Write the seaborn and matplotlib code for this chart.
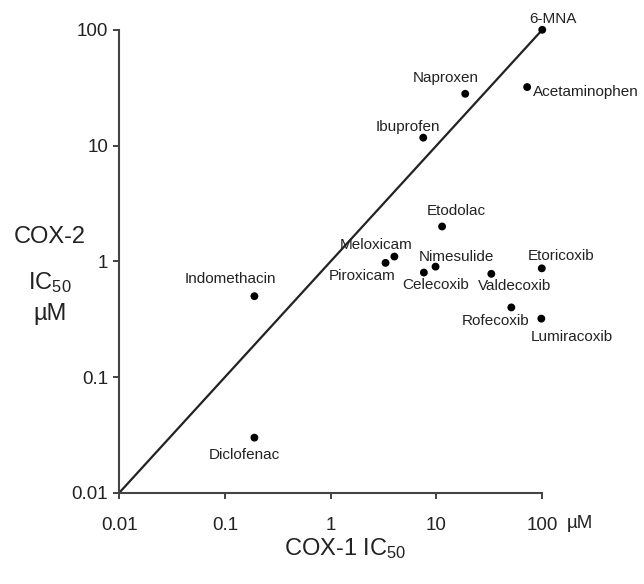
import pandas as pd
import matplotlib.pyplot as plt
import seaborn as sns

# IC50 values (uM)
drugs = ["6-MNA", "Naproxen", "Acetaminophen", "Ibuprofen", "Etodolac",
         "Meloxicam", "Piroxicam", "Nimesulide", "Celecoxib", "Valdecoxib",
         "Etoricoxib", "Rofecoxib", "Lumiracoxib", "Indomethacin", "Diclofenac"]
cox1 = [100, 18.7, 72, 7.5, 11.3, 4.0, 3.3, 9.8, 7.6, 33, 99, 51, 98, 0.19, 0.19]
cox2 = [100, 28, 32, 11.7, 2.0, 1.1, 0.97, 0.9, 0.8, 0.78, 0.87, 0.4, 0.32, 0.5, 0.03]

# label offsets in pixels relative to each point
label_offsets = {
    "6-MNA": (11, 11, "center"), "Naproxen": (-19, 16, "center"),
    "Acetaminophen": (6, -5, "left"), "Ibuprofen": (-15, 11, "center"),
    "Etodolac": (14, 15, "center"), "Meloxicam": (-18, 12, "center"),
    "Piroxicam": (-23, -13, "center"), "Nimesulide": (21, 10, "center"),
    "Celecoxib": (12, -12, "center"), "Valdecoxib": (23, -12, "center"),
    "Etoricoxib": (19, 12, "center"), "Rofecoxib": (-16, -14, "center"),
    "Lumiracoxib": (30, -18, "center"), "Indomethacin": (-24, 17, "center"),
    "Diclofenac": (-10, -17, "center"),
}

df = pd.DataFrame({"drug": drugs, "COX-1": cox1, "COX-2": cox2})

sns.set_style("ticks")
plt.rcParams["font.family"] = ["Liberation Sans", "DejaVu Sans"]
plt.rcParams["mathtext.fontset"] = "custom"
plt.rcParams["mathtext.rm"] = "Liberation Sans"
plt.rcParams["mathtext.it"] = "Liberation Sans"
ink = "#222222"

fig = plt.figure(figsize=(6.44, 5.84), dpi=100)
ax = fig.add_axes([0.185, 0.156, 0.657, 0.793])

# line of equal potency
lims = [0.01, 100]
ax.plot(lims, lims, color=ink, lw=1.6, zorder=1)
sns.scatterplot(data=df, x="COX-1", y="COX-2", color="black", s=32,
                edgecolor="none", ax=ax, zorder=3, clip_on=False)

for name, x, y in zip(drugs, cox1, cox2):
    dx, dy, ha = label_offsets[name]
    ax.annotate(name, (x, y), xytext=(dx, dy), textcoords="offset pixels",
                ha=ha, va="center", fontsize=11, color=ink)

ax.set_xscale("log")
ax.set_yscale("log")
ax.set_xlim(lims)
ax.set_ylim(lims)
ticks = [0.01, 0.1, 1, 10, 100]
tick_labels = ["0.01", "0.1", "1", "10", "100"]
ax.set_xticks(ticks)
ax.set_xticklabels(tick_labels)
ax.set_yticks(ticks)
ax.set_yticklabels(tick_labels)
ax.minorticks_off()
ax.tick_params(labelsize=13.5, colors=ink, length=4, width=1.2)
ax.tick_params(axis="y", pad=4)
ax.tick_params(axis="x", pad=13)
for s in ["top", "right"]:
    ax.spines[s].set_visible(False)
for s in ["left", "bottom"]:
    ax.spines[s].set_color("#444444")
    ax.spines[s].set_linewidth(1.5)

ax.set_xlabel("")
ax.set_ylabel("")
fig.text(567 / 644, 1 - 523 / 584, "µM", fontsize=13.5, color=ink, va="center")
fig.text(345 / 644, 1 - 549 / 584, "COX-1 IC$_{50}$", fontsize=17,
         color=ink, ha="center", va="center")
fig.text(50 / 644, 1 - 237 / 584, "COX-2", fontsize=17, color=ink,
         ha="center", va="center")
fig.text(50 / 644, 1 - 283 / 584, "IC$_{50}$", fontsize=17, color=ink,
         ha="center", va="center")
fig.text(50 / 644, 1 - 314 / 584, "µM", fontsize=17, color=ink,
         ha="center", va="center")

plt.savefig("out.png", dpi=100)
plt.close()
